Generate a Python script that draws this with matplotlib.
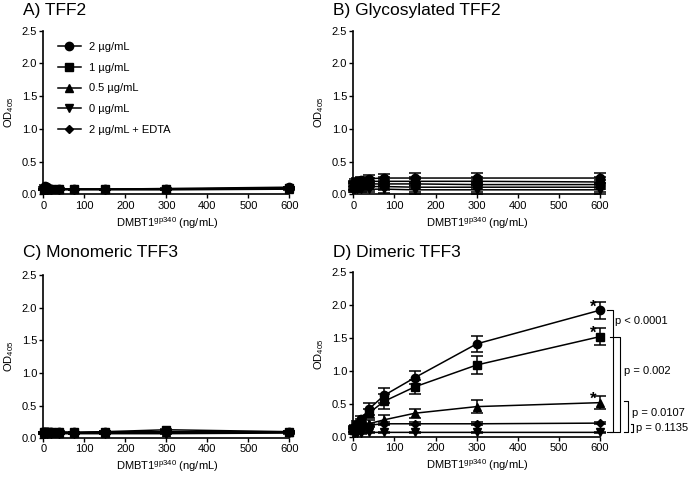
import numpy as np
import matplotlib
matplotlib.use("Agg")
import matplotlib.pyplot as plt
from matplotlib.lines import Line2D

plt.rcParams['font.family'] = ['Liberation Sans', 'DejaVu Sans']
plt.rcParams['mathtext.fontset'] = 'custom'
plt.rcParams['mathtext.rm'] = 'Liberation Sans'
plt.rcParams['mathtext.it'] = 'Liberation Sans'

# DMBT1 concentrations (ng/mL)
dmbt1 = [2.34, 4.69, 9.38, 18.75, 37.5, 75, 150, 300, 600]

labels = ['2 µg/mL', '1 µg/mL', '0.5 µg/mL', '0 µg/mL', '2 µg/mL + EDTA']
markers = ['o', 's', '^', 'v', 'D']

# A) TFF2
tff2_2 = [0.10, 0.13, 0.12, 0.09, 0.09, 0.08, 0.08, 0.09, 0.11]
tff2_1 = [0.08, 0.08, 0.08, 0.08, 0.08, 0.08, 0.08, 0.08, 0.10]
tff2_05 = [0.08, 0.08, 0.08, 0.08, 0.08, 0.08, 0.08, 0.08, 0.09]
tff2_0 = [0.07, 0.07, 0.07, 0.07, 0.07, 0.07, 0.07, 0.07, 0.08]
tff2_edta = [0.08, 0.08, 0.08, 0.08, 0.08, 0.08, 0.08, 0.08, 0.09]
tff2_err = [0.01] * 9

# B) Glycosylated TFF2
gly_2 = [0.16, 0.18, 0.20, 0.22, 0.24, 0.25, 0.25, 0.25, 0.25]
gly_1 = [0.14, 0.16, 0.17, 0.19, 0.20, 0.20, 0.20, 0.20, 0.19]
gly_05 = [0.12, 0.13, 0.14, 0.15, 0.16, 0.16, 0.16, 0.15, 0.15]
gly_0 = [0.08, 0.08, 0.08, 0.08, 0.08, 0.08, 0.07, 0.07, 0.07]
gly_edta = [0.11, 0.12, 0.12, 0.12, 0.12, 0.12, 0.11, 0.11, 0.11]
gly_err = [0.05, 0.05, 0.05, 0.05, 0.05, 0.06, 0.07, 0.07, 0.07]

# C) Monomeric TFF3
mono_2 = [0.09, 0.09, 0.09, 0.09, 0.09, 0.09, 0.10, 0.10, 0.10]
mono_1 = [0.09, 0.09, 0.09, 0.10, 0.10, 0.09, 0.10, 0.13, 0.10]
mono_05 = [0.08, 0.08, 0.08, 0.08, 0.08, 0.08, 0.08, 0.09, 0.09]
mono_0 = [0.07, 0.07, 0.07, 0.07, 0.07, 0.07, 0.07, 0.07, 0.08]
mono_edta = [0.08, 0.08, 0.08, 0.08, 0.08, 0.08, 0.09, 0.10, 0.09]
mono_err = [0.01] * 9

# D) Dimeric TFF3
dim_2 = [0.12, 0.15, 0.20, 0.27, 0.42, 0.63, 0.90, 1.41, 1.92]
dim_2_err = [0.03, 0.03, 0.04, 0.05, 0.09, 0.11, 0.10, 0.12, 0.13]
dim_1 = [0.11, 0.13, 0.17, 0.22, 0.36, 0.54, 0.76, 1.09, 1.52]
dim_1_err = [0.03, 0.03, 0.04, 0.05, 0.07, 0.11, 0.11, 0.13, 0.13]
dim_05 = [0.10, 0.12, 0.14, 0.17, 0.20, 0.26, 0.36, 0.46, 0.52]
dim_05_err = [0.02, 0.03, 0.03, 0.04, 0.05, 0.07, 0.07, 0.10, 0.10]
dim_0 = [0.06, 0.06, 0.06, 0.06, 0.07, 0.07, 0.07, 0.07, 0.07]
dim_0_err = [0.01] * 9
dim_edta = [0.14, 0.15, 0.16, 0.18, 0.18, 0.20, 0.20, 0.20, 0.21]
dim_edta_err = [0.02] * 9

# p-value brackets for panel D
p_labels = ['p < 0.0001', 'p = 0.002', 'p = 0.0107', 'p = 0.1135']
p_tops = [1.92, 1.52, 0.55, 0.20]
p_bottom = 0.07

panels = [
    ('A) TFF2', [tff2_2, tff2_1, tff2_05, tff2_0, tff2_edta],
     [tff2_err] * 5),
    ('B) Glycosylated TFF2', [gly_2, gly_1, gly_05, gly_0, gly_edta],
     [gly_err] * 5),
    ('C) Monomeric TFF3', [mono_2, mono_1, mono_05, mono_0, mono_edta],
     [mono_err] * 5),
    ('D) Dimeric TFF3', [dim_2, dim_1, dim_05, dim_0, dim_edta],
     [dim_2_err, dim_1_err, dim_05_err, dim_0_err, dim_edta_err]),
]

fig = plt.figure(figsize=(6.99, 4.80), dpi=100)
rects = [
    [0.062, 0.595, 0.355, 0.341],
    [0.5054, 0.595, 0.356, 0.341],
    [0.062, 0.087, 0.355, 0.340],
    [0.5054, 0.0896, 0.356, 0.344],
]
title_pos = [(23, 11), (333, 11), (23, 252), (333, 252)]

def msize(m):
    return 4.5 if m == 'D' else 6

axes = []
for i, (title, series, errs) in enumerate(panels):
    ax = fig.add_axes(rects[i])
    axes.append(ax)
    for vals, err, m, lab in zip(series, errs, markers, labels):
        ax.errorbar(dmbt1, vals, yerr=err, color='black', marker=m,
                    markersize=msize(m), linewidth=1.1, elinewidth=1.1,
                    capsize=4.5, capthick=1.1, clip_on=False)
    ax.set_xlim(0, 605)
    ax.set_ylim(0, 2.5)
    ax.set_xticks([0, 100, 200, 300, 400, 500, 600])
    ax.set_yticks([0, 0.5, 1.0, 1.5, 2.0, 2.5])
    ax.set_yticklabels(['0.0', '0.5', '1.0', '1.5', '2.0', '2.5'])
    ax.spines['top'].set_visible(False)
    ax.spines['right'].set_visible(False)
    ax.spines['left'].set_linewidth(1.2)
    ax.spines['bottom'].set_linewidth(1.2)
    ax.spines['bottom'].set_bounds(0, 600)
    ax.tick_params(labelsize=8, length=3, width=1, pad=1.5)
    ax.set_xlabel('DMBT1$^{\\mathrm{gp340}}$ (ng/mL)', fontsize=8, labelpad=3)
    ax.set_ylabel('OD$_{405}$', fontsize=8, labelpad=4)
    tx, ty = title_pos[i]
    fig.text(tx / 699, 1 - ty / 480, title, fontsize=12.5, ha='left', va='center')

handles = [Line2D([], [], color='black', marker=m, markersize=msize(m),
                  linewidth=1.1) for m in markers]
axes[0].legend(handles, labels, loc='upper left', frameon=False, fontsize=8,
               handlelength=2.0, labelspacing=0.95,
               bbox_to_anchor=(0.02, 0.99))

# annotations in panel D
axd = axes[3]
for y in [dim_2[-1], dim_1[-1], dim_05[-1]]:
    axd.text(583, y + 0.05, '*', fontsize=12, fontweight='bold',
             ha='center', va='center')

br_x = [(616, 632), (624, 649), (658, 667), (675, 681)]
txt_pos = [(636, 1.75), (658, 1.0), (678, 0.36), (688, 0.13)]
for (x0, x1), top, lab, (lx, ly) in zip(br_x, p_tops, p_labels, txt_pos):
    axd.plot([x0, x1, x1, x0], [top, top, p_bottom, p_bottom],
             color='black', linewidth=0.8, clip_on=False)
    axd.text(lx, ly, lab, fontsize=8, ha='left', va='center')

fig.savefig('out.png', dpi=100)
